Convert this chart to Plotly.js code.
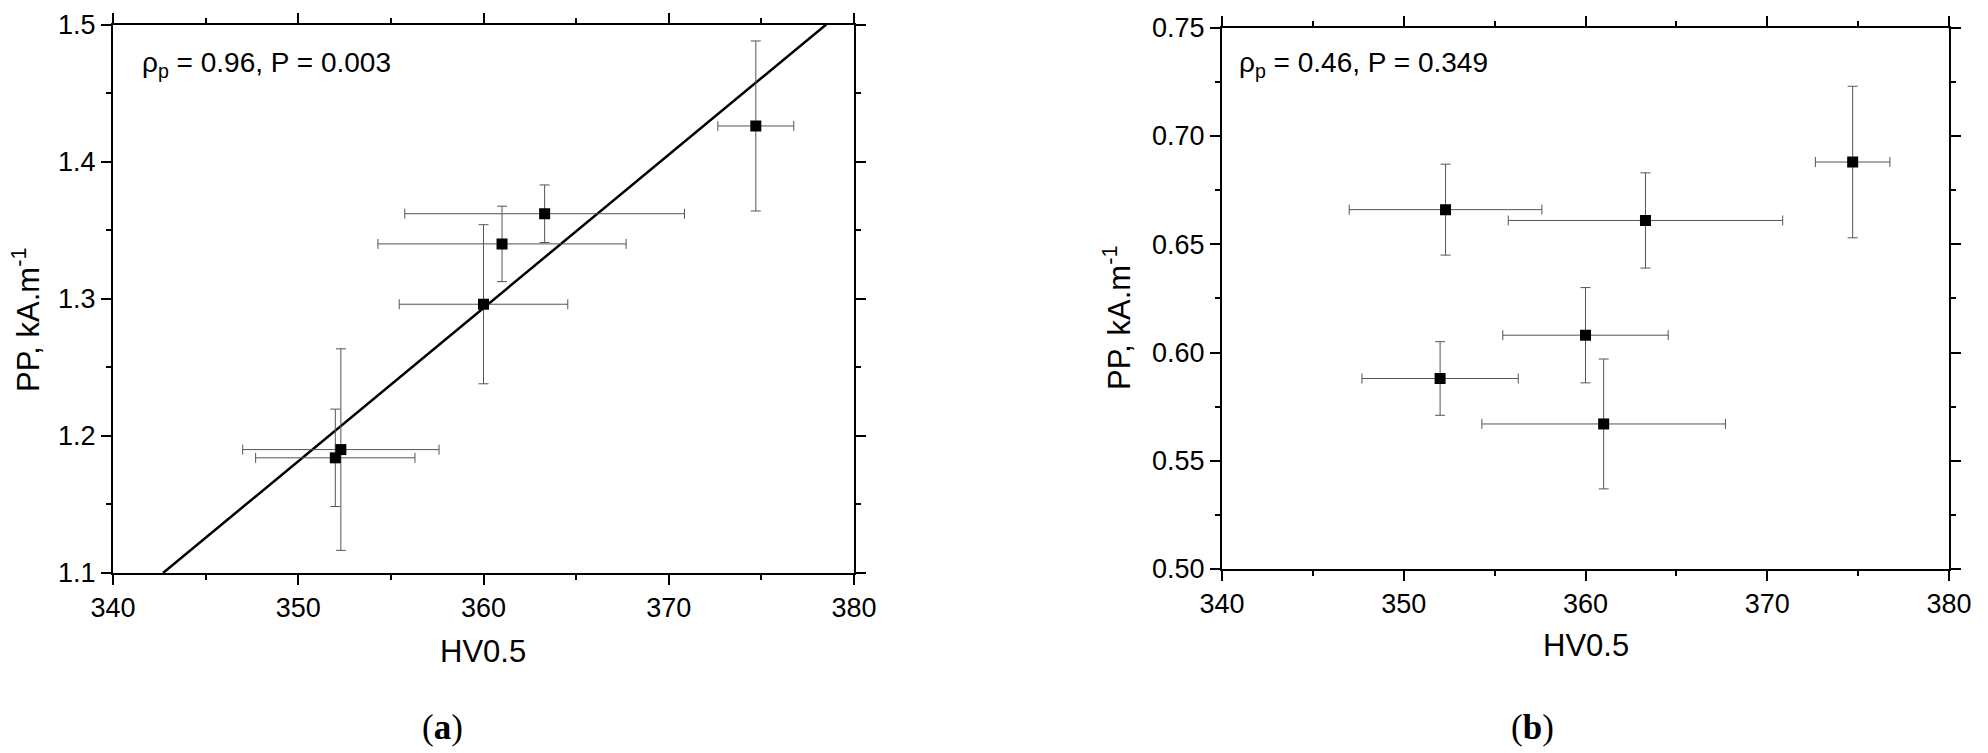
<!DOCTYPE html>
<html>
<head>
<meta charset="utf-8">
<script src="https://cdn.plot.ly/plotly-3.0.1.min.js"></script>
<style>
  html, body { margin: 0; padding: 0; background: #fff; }
  #graph { width: 1988px; height: 753px; }
</style>
</head>
<body>
<div id="graph"></div>
<script>
'use strict';

// HV0.5 values shared by both panels, with their spread
var hv = [352.0, 352.3, 360.0, 361.0, 363.3, 374.7];
var hvErr = [4.3, 5.3, 4.55, 6.7, 7.55, 2.05];

// panel (a): PP vs HV0.5
var ppA = [1.184, 1.190, 1.296, 1.340, 1.362, 1.426];
var ppAErr = [0.0355, 0.0735, 0.058, 0.0275, 0.021, 0.062];

// linear fit of panel (a), end points
var fitX = [342.7, 378.5];
var fitY = [1.1, 1.5];

// panel (b)
var ppB = [0.588, 0.666, 0.608, 0.567, 0.661, 0.688];
var ppBErr = [0.017, 0.021, 0.022, 0.030, 0.022, 0.035];

var statA = '\u03c1<sub>p</sub> = 0.96, P = 0.003';
var statB = '\u03c1<sub>p</sub> = 0.46, P = 0.349';
var yTitle = 'PP, kA.m<sup>-1</sup>';
var xTitle = 'HV0.5';

var W = 1988, H = 753;
var font = 'Liberation Sans, Arial, sans-serif';

function errBar(arr) {
    return {type: 'data', array: arr, visible: true, color: '#555', thickness: 1, width: 5};
}

var fitLine = {
    x: fitX, y: fitY,
    mode: 'lines', type: 'scatter',
    line: {color: '#000', width: 2.5},
    xaxis: 'x', yaxis: 'y',
    hoverinfo: 'skip'
};

var pointsA = {
    x: hv, y: ppA,
    mode: 'markers', type: 'scatter',
    marker: {symbol: 'square', size: 11, color: '#000'},
    error_x: errBar(hvErr),
    error_y: errBar(ppAErr),
    xaxis: 'x', yaxis: 'y'
};

var pointsB = {
    x: hv, y: ppB,
    mode: 'markers', type: 'scatter',
    marker: {symbol: 'square', size: 11, color: '#000'},
    error_x: errBar(hvErr),
    error_y: errBar(ppBErr),
    xaxis: 'x2', yaxis: 'y2'
};

function xAxis(dom, anchor) {
    return {
        domain: dom, anchor: anchor,
        range: [340, 380], dtick: 10, tick0: 340,
        ticks: 'outside', ticklen: 10, tickwidth: 2, tickcolor: '#000',
        minor: {dtick: 5, ticks: 'outside', ticklen: 5, tickwidth: 2, tickcolor: '#000'},
        showline: true, linewidth: 2, linecolor: '#000', mirror: 'ticks',
        showgrid: false, zeroline: false,
        tickfont: {family: font, size: 27, color: '#000'}
    };
}

function yAxis(dom, anchor, range, dtick, minorDtick, fmt) {
    return {
        domain: dom, anchor: anchor,
        range: range, dtick: dtick, tick0: range[0], tickformat: fmt,
        ticks: 'outside', ticklen: 10, tickwidth: 2, tickcolor: '#000',
        minor: {dtick: minorDtick, ticks: 'outside', ticklen: 5, tickwidth: 2, tickcolor: '#000'},
        showline: true, linewidth: 2, linecolor: '#000', mirror: 'ticks',
        showgrid: false, zeroline: false,
        tickfont: {family: font, size: 27, color: '#000'}
    };
}

function note(text, px, py, size, opts) {
    var a = {xref: 'paper', yref: 'paper', x: px / W, y: 1 - py / H,
             xanchor: 'center', yanchor: 'middle', showarrow: false,
             text: text, font: {family: font, size: size, color: '#000'}};
    for (var k in opts) a[k] = opts[k];
    return a;
}

var serif = {family: 'Liberation Serif, serif', size: 35, color: '#000'};

var layout = {
    width: W, height: H,
    margin: {l: 0, r: 0, t: 0, b: 0},
    paper_bgcolor: '#fff', plot_bgcolor: '#fff',
    showlegend: false,
    xaxis: xAxis([113 / W, 854 / W], 'y'),
    yaxis: yAxis([1 - 573 / H, 1 - 24.5 / H], 'x', [1.1, 1.5], 0.1, 0.05, '.1f'),
    xaxis2: xAxis([1222 / W, 1949 / W], 'y2'),
    yaxis2: yAxis([1 - 569 / H, 1 - 27.8 / H], 'x2', [0.5, 0.75], 0.05, 0.025, '.2f'),
    annotations: [
        note(statA, 140, 64, 28, {xanchor: 'left'}),
        note(statB, 1237, 64, 28, {xanchor: 'left'}),
        note(yTitle, 26, 320, 31, {textangle: -90}),
        note(yTitle, 1117, 318, 31, {textangle: -90}),
        note(xTitle, 483, 651, 31),
        note(xTitle, 1586, 645, 31),
        note('(<b>a</b>)', 442, 727, 35, {font: serif}),
        note('(<b>b</b>)', 1532, 727, 35, {font: serif})
    ]
};

Plotly.newPlot('graph', [fitLine, pointsA, pointsB], layout, {staticPlot: true});
</script>
</body>
</html>
